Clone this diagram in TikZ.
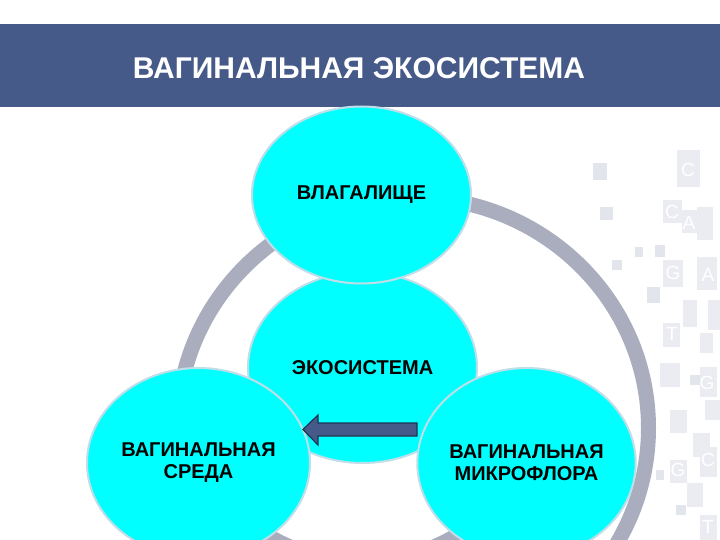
\documentclass[tikz,border=0pt]{standalone}
\usepackage{fontspec}
\setmainfont{Liberation Sans}
\usetikzlibrary{shapes.geometric}
\definecolor{band}{RGB}{70,90,138}
\definecolor{cy}{RGB}{0,255,255}
\definecolor{cyedge}{RGB}{192,222,232}
\definecolor{ringc}{RGB}{169,173,189}
\definecolor{arrowfill}{RGB}{70,90,138}
\definecolor{arrowedge}{RGB}{32,52,82}
\definecolor{deco}{RGB}{234,236,241}
\definecolor{decob}{RGB}{226,229,236}
\begin{document}
\begin{tikzpicture}[x=1pt,y=-1pt,
  bubble/.style={ellipse, draw=cyedge, line width=2pt, fill=cy, inner sep=0pt,
    font=\fontsize{20}{22}\selectfont\bfseries, align=center, text=black},
  ringline/.style={draw=ringc, line width=15pt},
  decosq/.style={fill=deco, draw=none},
  decosqb/.style={fill=decob, draw=none},
  decoletter/.style={text=white, inner sep=0pt, font=\fontsize{19}{19}\selectfont}]
\useasboundingbox (0,0) rectangle (720,540);
\fill[white] (0,0) rectangle (720,540);
% header band
\fill[band] (0,24) rectangle (720,107);
\node[text=white, inner sep=0pt, font=\fontsize{30}{33}\selectfont\bfseries] (title) at (359,68) {ВАГИНАЛЬНАЯ ЭКОСИСТЕМА};
% background decoration (faint squares)
\foreach \a/\b/\c/\d in {677/150/700/187, 663/200/682/223, 682/210/697/233, 697/207/713/240,
  663/260/683/287, 697/257/717/290, 683/300/697/327, 663/323/680/347, 700/333/713/353,
  660/363/680/387, 700/367/717/397, 670/410/687/433, 693/433/710/457, 700/447/717/477,
  670/460/687/483, 687/483/703/507, 700/515/717/540, 708/300/720/330, 705/400/720/420}
  {\fill[decosq] (\a,\b) rectangle (\c,\d);}
\foreach \a/\b/\c/\d in {593/163/607/180, 600/207/613/220, 635/247/643/257, 647/287/660/303,
  612/260/622/270, 625/330/635/342, 640/395/650/407, 655/245/665/257, 690/375/700/385,
  656/470/664/480, 676/505/686/515, 610/420/620/432, 645/420/655/430}
  {\fill[decosqb] (\a,\b) rectangle (\c,\d);}
\foreach \n/\x/\y/\t in {1/688/170/C, 2/672/212/C, 3/689/223/A, 4/673/273/G, 5/708/275/A,
  6/672/334/T, 7/707/383/G, 8/708/460/C, 9/678/470/G, 10/708/527/T}
  {\node[decoletter] (dl\n) at (\x,\y) {\t};}
% rings
\draw[ringline] (413,428) ellipse [x radius=235.5, y radius=230.5];
\draw[ringline] (362,377) ++(50:184.5) arc[start angle=50, end angle=130, radius=184.5];
% bubbles
\node[bubble, minimum width=229pt, minimum height=191pt] (eco) at (362.5,367.5) {ЭКОСИСТЕМА};
\node[bubble, minimum width=219pt, minimum height=177pt] (vag) at (361.5,195) {ВЛАГАЛИЩЕ};
\node[bubble, minimum width=223pt, minimum height=190pt] (env) at (198.5,463) {ВАГИНАЛЬНАЯ\\СРЕДА};
\node[bubble, minimum width=217pt, minimum height=190pt] (mic) at (526.5,463) {ВАГИНАЛЬНАЯ\\МИКРОФЛОРА};
% block arrow
\draw[fill=arrowfill, draw=arrowedge, line width=1.2pt, line join=miter]
  (417,423) -- (318,423) -- (318,415) -- (303,429.5) -- (318,445) -- (318,436) -- (417,436) -- cycle;
\end{tikzpicture}
\end{document}
